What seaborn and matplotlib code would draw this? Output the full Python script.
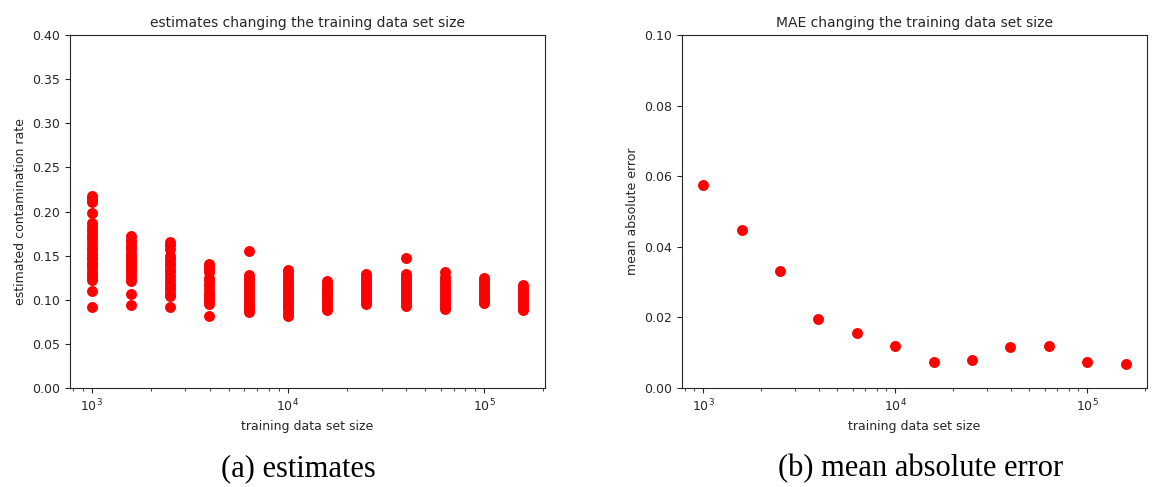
import numpy as np
import pandas as pd
import matplotlib
matplotlib.use("Agg")
import matplotlib.pyplot as plt
import seaborn as sns

# training set sizes (log-spaced, 10^3 ... 10^5.2)
sizes = [1000, 1585, 2512, 3981, 6310, 10000, 15849, 25119, 39811, 63096, 100000, 158489]

# estimated contamination rate of each run, per training set size
est_1000 = [0.218, 0.214, 0.211, 0.198, 0.187, 0.183, 0.179, 0.175, 0.171, 0.168, 0.163,
            0.159, 0.156, 0.152, 0.149, 0.146, 0.142, 0.139, 0.136, 0.132, 0.128, 0.125,
            0.122, 0.110, 0.092]
est_1585 = [0.172, 0.168, 0.165, 0.161, 0.157, 0.153, 0.150, 0.147, 0.144, 0.141, 0.138,
            0.135, 0.132, 0.128, 0.124, 0.121, 0.107, 0.094]
est_2512 = [0.166, 0.162, 0.158, 0.150, 0.146, 0.142, 0.138, 0.134, 0.131, 0.127, 0.122,
            0.118, 0.115, 0.111, 0.107, 0.104, 0.092]
est_3981 = [0.141, 0.138, 0.135, 0.131, 0.125, 0.121, 0.117, 0.112, 0.108, 0.105, 0.102,
            0.099, 0.095, 0.082]
est_6310 = [0.155, 0.128, 0.125, 0.122, 0.119, 0.116, 0.113, 0.110, 0.107, 0.104, 0.101,
            0.098, 0.095, 0.092, 0.089, 0.086]
est_10000 = [0.134, 0.131, 0.127, 0.124, 0.120, 0.117, 0.113, 0.110, 0.107, 0.104, 0.101,
             0.098, 0.095, 0.092, 0.089, 0.085, 0.082]
est_15849 = [0.121, 0.118, 0.115, 0.112, 0.109, 0.106, 0.103, 0.100, 0.097, 0.094, 0.091, 0.088]
est_25119 = [0.129, 0.126, 0.122, 0.119, 0.116, 0.113, 0.110, 0.107, 0.104, 0.101, 0.098, 0.095]
est_39811 = [0.147, 0.129, 0.126, 0.123, 0.120, 0.117, 0.114, 0.111, 0.108, 0.105, 0.102,
             0.099, 0.096, 0.093]
est_63096 = [0.131, 0.126, 0.122, 0.119, 0.116, 0.113, 0.110, 0.107, 0.104, 0.101, 0.098,
             0.095, 0.092, 0.089]
est_100000 = [0.125, 0.122, 0.119, 0.116, 0.113, 0.110, 0.107, 0.104, 0.101, 0.098, 0.096]
est_158489 = [0.117, 0.114, 0.111, 0.108, 0.105, 0.102, 0.099, 0.096, 0.093, 0.090, 0.088]

estimates = [est_1000, est_1585, est_2512, est_3981, est_6310, est_10000,
             est_15849, est_25119, est_39811, est_63096, est_100000, est_158489]

# mean absolute error per training set size
mae = [0.0575, 0.0448, 0.0331, 0.0195, 0.0156, 0.0119,
       0.0074, 0.0079, 0.0116, 0.0119, 0.0074, 0.0068]

est_df = pd.DataFrame({
    "size": [s for s, vals in zip(sizes, estimates) for _ in vals],
    "estimate": [v for vals in estimates for v in vals],
})
mae_df = pd.DataFrame({"size": sizes, "mae": mae})

sns.set_style("ticks")
plt.rcParams["font.family"] = ["DejaVu Sans"]

fig = plt.figure(figsize=(11.53, 4.87), dpi=100)
ax1 = fig.add_axes([0.0607, 0.2033, 0.4120, 0.7248])
ax2 = fig.add_axes([0.5915, 0.2033, 0.4030, 0.7248])

for ax in (ax1, ax2):
    ax.set_xscale("log")

sns.scatterplot(data=est_df, x="size", y="estimate", ax=ax1, color="red",
                s=62, linewidth=0, legend=False)
ax1.set_ylim(0, 0.40)
ax1.set_yticks(np.arange(0, 0.401, 0.05))
ax1.set_title("estimates changing the training data set size", fontsize=10)
ax1.set_xlabel("training data set size", fontsize=9)
ax1.set_ylabel("estimated contamination rate", fontsize=9)

sns.scatterplot(data=mae_df, x="size", y="mae", ax=ax2, color="red",
                s=62, linewidth=0, legend=False)
ax2.set_ylim(0, 0.10)
ax2.set_yticks(np.arange(0, 0.101, 0.02))
ax2.set_title("MAE changing the training data set size", fontsize=10)
ax2.set_xlabel("training data set size", fontsize=9)
ax2.set_ylabel("mean absolute error", fontsize=9)

for ax in (ax1, ax2):
    ax.tick_params(labelsize=9)
    ax.margins(x=0.05)

fig.text(0.259, 0.022, "(a) estimates", ha="center", va="baseline",
         fontsize=22, family=["Liberation Serif"], color="black")
fig.text(0.798, 0.022, "(b) mean absolute error", ha="center", va="baseline",
         fontsize=22, family=["Liberation Serif"], color="black")

fig.savefig("out.png", dpi=100)
